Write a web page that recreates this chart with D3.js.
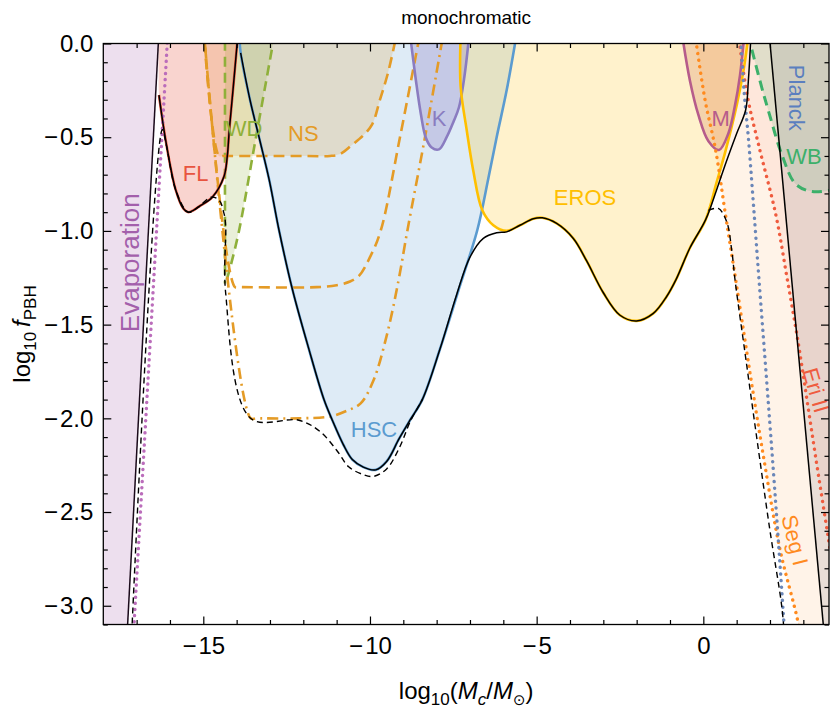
<!DOCTYPE html>
<html><head><meta charset="utf-8">
<script src="https://cdn.jsdelivr.net/npm/d3@7"></script>
<style>body{margin:0;background:#fff} text{font-family:"Liberation Sans",Arial,Helvetica,sans-serif}</style>
</head><body><svg id="c" width="834" height="709"></svg>
<script>
// ---- data (x = log10(Mc/Msun), y = log10 f_PBH) ----
const xMajor = [-15,-10,-5,0];
const xMinor = d3.range(-17,4,1).filter(v=>v%5!==0);
const yMajor = [0,-0.5,-1,-1.5,-2,-2.5,-3];
const yMinor = d3.range(0,-3.11,-0.1).map(v=>+v.toFixed(1));

const evapLine   = [[-16.32,0.1],[-17.30,-3.2]];
const evapDotted = [[-16.05,0.1],[-17.11,-3.2]];
const flCurve  = [[-16.35,0.1],[-16.34,-0.15],[-16.33,-0.275],[-16.13,-0.515],[-15.83,-0.78],[-15.6,-0.88],[-15.45,-0.9],[-15.3,-0.89],[-15.13,-0.87],[-14.73,-0.82],[-14.38,-0.71],[-14.28,-0.6],[-14.22,-0.46],[-14.1,-0.23],[-13.96,0.05]];
const wdLeft   = [[-14.35,0.1],[-14.35,-1.28]];
const wdRight  = [[-12.86,0.05],[-13.43,-0.51],[-13.93,-1.0],[-14.2,-1.2],[-14.33,-1.28]];
const nsA = [[-15.0,0.1],[-14.53,-0.6],[-14.4,-0.6],[-12.0,-0.6],[-11.2,-0.6],[-10.9,-0.59],[-10.53,-0.54],[-10.2,-0.49],[-9.93,-0.43],[-9.7,-0.3],[-9.45,-0.15],[-9.2,0.05]];
const nsB = [[-15.0,0.1],[-14.05,-1.3],[-13.9,-1.3],[-11.6,-1.3],[-11.0,-1.29],[-10.6,-1.27],[-10.33,-1.24],[-10.0,-1.14],[-9.68,-1.0],[-9.1,-0.5],[-8.5,0.05]];
const nsC = [[-15.0,0.1],[-13.58,-2.0],[-13.4,-2.0],[-12.13,-2.0],[-11.2,-1.99],[-10.7,-1.96],[-10.28,-1.92],[-9.9,-1.8],[-9.5,-1.56],[-9.15,-1.27],[-8.88,-1.0],[-8.35,-0.5],[-7.8,0.05]];
const hscCurve = [[-13.92,0.05],[-13.88,-0.05],[-13.6,-0.3],[-13.3,-0.52],[-13.02,-0.73],[-12.73,-0.995],[-12.33,-1.31],[-11.85,-1.62],[-11.38,-1.9],[-11.13,-2.01],[-10.8,-2.14],[-10.53,-2.22],[-10.2,-2.26],[-9.83,-2.275],[-9.5,-2.23],[-9.13,-2.11],[-8.8,-2.01],[-8.43,-1.9],[-7.9,-1.63],[-7.35,-1.32],[-6.78,-0.995],[-6.45,-0.72],[-6.2,-0.5],[-5.9,-0.25],[-5.6,0.05]];
const kCurve = [[-8.8,0.05],[-8.62,-0.2],[-8.47,-0.38],[-8.33,-0.5],[-8.15,-0.555],[-7.93,-0.565],[-7.7,-0.5],[-7.5,-0.42],[-7.33,-0.34],[-7.17,-0.18],[-7.02,0.05]];
const erosCurve = [[-7.28,0.05],[-7.28,-0.23],[-7.1,-0.46],[-6.9,-0.68],[-6.63,-0.89],[-6.3,-0.97],[-5.9,-1.0],[-5.5,-0.97],[-5.1,-0.935],[-4.83,-0.93],[-4.4,-0.96],[-3.9,-1.04],[-3.5,-1.16],[-3.0,-1.33],[-2.5,-1.45],[-2.0,-1.48],[-1.5,-1.44],[-1.1,-1.35],[-0.82,-1.26],[-0.4,-1.09],[0.07,-0.94],[0.4,-0.74],[0.67,-0.57],[1.0,-0.33],[1.2,-0.15],[1.36,0.05]];
const mCurve = [[-0.64,0.05],[-0.4,-0.2],[-0.15,-0.38],[0.15,-0.52],[0.47,-0.568],[0.75,-0.48],[0.95,-0.33],[1.1,-0.17],[1.23,0.05]];
const envMid = [[-13.88,-0.05],[-13.6,-0.3],[-13.3,-0.52],[-13.02,-0.73],[-12.73,-0.995],[-12.33,-1.31],[-11.85,-1.62],[-11.38,-1.9],[-11.13,-2.01],[-10.8,-2.14],[-10.53,-2.22],[-10.2,-2.26],[-9.83,-2.275],[-9.5,-2.23],[-9.13,-2.11],[-8.8,-2.01],[-8.43,-1.9],[-7.9,-1.63],[-7.4,-1.34],[-7.0,-1.14],[-6.6,-1.04],[-6.2,-1.01],[-5.9,-1.005],[-5.5,-0.97],[-5.1,-0.935],[-4.83,-0.93],[-4.4,-0.96],[-3.9,-1.04],[-3.5,-1.16],[-3.0,-1.33],[-2.5,-1.45],[-2.0,-1.48],[-1.5,-1.44],[-1.1,-1.35],[-0.82,-1.26],[-0.4,-1.09],[0.07,-0.94],[0.4,-0.78],[0.67,-0.64],[1.0,-0.48],[1.27,-0.355],[1.35,-0.2],[1.43,0.05]];
const dashedLeft = [[-17.16,-3.2],[-16.23,-0.46],[-16.1,-0.55],[-15.83,-0.78],[-15.45,-0.9],[-15.13,-0.87],[-14.77,-0.82],[-14.53,-0.835],[-14.38,-0.906],[-14.33,-0.97],[-14.33,-1.33],[-13.58,-2.0],[-12.13,-2.01],[-11.5,-2.07],[-11.0,-2.17],[-10.63,-2.26],[-10.2,-2.3],[-9.9,-2.31],[-9.5,-2.27],[-9.1,-2.15],[-8.8,-2.02],[-8.43,-1.9]];
const dashedRight = [[0.15,-0.89],[0.45,-0.88],[0.7,-0.95],[0.85,-1.1],[0.95,-1.26],[1.25,-1.65],[1.6,-2.1],[2.0,-2.6],[2.35,-3.0],[2.45,-3.2]];
const segICurve  = [[-0.25,0.05],[0.05,-0.3],[0.37,-0.57],[0.67,-0.92],[0.97,-1.26],[1.35,-1.7],[1.8,-2.2],[2.3,-2.7],[2.82,-3.07],[2.95,-3.2]];
const eriCurve   = [[1.05,0.05],[1.32,-0.28],[1.67,-0.55],[2.17,-0.91],[2.52,-1.26],[2.85,-1.6],[3.15,-1.95],[3.45,-2.3],[3.85,-2.75]];
const blueDotted = [[1.11,0.05],[1.22,-0.25],[1.35,-0.5],[1.5,-0.85],[1.67,-1.26],[1.9,-1.8],[2.15,-2.4],[2.42,-3.1],[2.45,-3.2]];
const wbCurve    = [[1.34,0.05],[1.7,-0.2],[1.97,-0.37],[2.37,-0.6],[2.77,-0.75],[3.27,-0.79],[3.9,-0.78]];
const planckLine = [[1.95,0.1],[3.65,-3.2]];

const regionLabels = [
  {t:"FL",x:-15.23,y:-0.69,c:"#e8543f",r:0,s:22},
  {t:"WD",x:-13.78,y:-0.45,c:"#8fb03a",r:0,s:22},
  {t:"NS",x:-12.0,y:-0.48,c:"#e49b26",r:0,s:22},
  {t:"K",x:-7.93,y:-0.40,c:"#8a7cc0",r:0,s:22},
  {t:"HSC",x:-9.88,y:-2.06,c:"#5b9bd0",r:0,s:22},
  {t:"EROS",x:-3.55,y:-0.82,c:"#ffbf00",r:0,s:22},
  {t:"M",x:0.52,y:-0.40,c:"#b65c8b",r:0,s:22},
  {t:"WB",x:3.02,y:-0.60,c:"#3cb06a",r:0,s:22},
  {t:"Planck",x:2.79,y:-0.29,c:"#5b7fbf",r:90,s:22},
  {t:"Eri II",x:3.38,y:-1.85,c:"#ef5b3e",r:74,s:22},
  {t:"Seg I",x:2.75,y:-2.65,c:"#ff8a1e",r:76,s:22},
  {t:"Evaporation",x:-17.2,y:-1.17,c:"#a35fab",r:-90,s:26}
];

// ---- layout ----
const L=103.3,R=829,T=43.5,B=624.5;
const svg=d3.select("#c");
const x=d3.scaleLinear().domain([-18,3.77]).range([L,R]);
const y=d3.scaleLinear().domain([-3.1,0]).range([B,T]);
const line=d3.line().x(d=>x(d[0])).y(d=>y(d[1])).curve(d3.curveCatmullRom.alpha(0.5));
const lin=d3.line().x(d=>x(d[0])).y(d=>y(d[1]));

svg.append("defs").append("clipPath").attr("id","clip").append("rect")
  .attr("x",L).attr("y",T).attr("width",R-L).attr("height",B-T);
const g=svg.append("g").attr("clip-path","url(#clip)");

const first=a=>a[0], last=a=>a[a.length-1];
function topFill(p,gen){gen=gen||line;return gen(p)+`L${x(last(p)[0])},${T-30}L${x(first(p)[0])},${T-30}Z`;}
function rightFill(p,gen){gen=gen||line;return gen(p)+`L${R+30},${y(last(p)[1])}L${R+30},${T-30}L${x(first(p)[0])},${T-30}Z`;}
function leftFill(p,gen){gen=gen||line;return gen(p)+`L${L-30},${y(last(p)[1])}L${L-30},${T-30}Z`;}

function fill(d,c,o){g.append("path").attr("d",d).attr("fill",c).attr("fill-opacity",o).attr("stroke","none");}
// fills
fill(leftFill(evapLine,lin),"#a35fab",0.2);
fill(topFill(hscCurve),"#5b9bd0",0.2);
fill(topFill(erosCurve),"#ffc000",0.2);
fill(topFill(nsA),"#e49b26",0.2);
fill(topFill(kCurve),"#8a7cc0",0.3);
fill(topFill(mCurve),"#c8603a",0.22);
fill(lin(wdLeft)+line(wdRight.slice().reverse()).replace(/^M/,"L")+"Z","#8fb03a",0.2);
fill(topFill(flCurve),"#e8543f",0.25);
fill(rightFill(segICurve),"#ff8a1e",0.1);
fill(rightFill(eriCurve),"#ef5b3e",0.07);
fill(topFill(wbCurve),"#3cb06a",0.15);
fill(rightFill(planckLine,lin),"#6a6a7a",0.15);

function stroke(d,c,w,dash){const p=g.append("path").attr("d",d).attr("fill","none").attr("stroke",c).attr("stroke-width",w).attr("stroke-linejoin","round");
  if(dash){p.attr("stroke-dasharray",dash);} if(dash&&dash.startsWith("0.1")) p.attr("stroke-linecap","round"); return p;}

// lines
stroke(lin(wdLeft),"#8fb03a",2.6,"10,6");
stroke(line(wdRight),"#8fb03a",2.6,"10,6");
stroke(line(nsA),"#e49b26",2.6,"11,6");
stroke(line(nsB),"#e49b26",2.6,"11,6");
stroke(line(nsC),"#e49b26",2.6,"11,5,2,5");
stroke(line(kCurve),"#8a7cc0",2.6);
stroke(line(hscCurve),"#5b9bd0",2.6);
stroke(line(erosCurve),"#ffc000",2.6);
stroke(line(mCurve),"#b65c8b",2.6);
stroke(line(flCurve.slice(2)),"#e8543f",2.6);
stroke(lin(evapDotted),"#bb6dbb",3.4,"0.1,6");
stroke(line(segICurve),"#ff8a1e",3.4,"0.1,6.5");
stroke(line(eriCurve),"#ef5b3e",3.4,"0.1,6.5");
stroke(line(blueDotted),"#6a86b8",3.4,"0.1,6.5");
stroke(line(wbCurve),"#3cb06a",3,"10,6");
stroke(line(dashedLeft),"#000",1.4,"6,4");
stroke(line(dashedRight),"#000",1.4,"6,4");
stroke(lin(evapLine),"#1a0a1a",1.5);
stroke(line(flCurve.slice(2)),"#000",1.5);
stroke(line(envMid),"#000",1.5);
stroke(lin(planckLine),"#000",1.5);

// region labels
regionLabels.forEach(l=>{
  svg.append("text").attr("transform",`translate(${x(l.x)},${y(l.y)}) rotate(${l.r})`)
    .attr("text-anchor","middle").attr("dy","0.35em").attr("font-size",l.s).attr("fill",l.c).text(l.t);
});

// axes
const fmtY=d=>d===0?"0.0":"\u2212\u200A"+Math.abs(d).toFixed(1);
const fmtX=d=>d===0?"0":"\u2212\u200A"+Math.abs(d);
function ax(gen,tr,vals,size,fmt,pad){
  const a=svg.append("g").attr("transform",tr).call(gen.tickValues(vals).tickSize(size).tickSizeOuter(0).tickPadding(pad||10).tickFormat(fmt||""));
  a.select(".domain").remove(); a.selectAll("line").attr("stroke","#000").attr("stroke-width",1.2);
  a.selectAll("text").attr("font-size",24).attr("fill","#000").attr("font-family","Liberation Sans,Arial,sans-serif");
  return a;
}
ax(d3.axisBottom(x),`translate(0,${B})`,xMajor,-8,fmtX,12);
ax(d3.axisBottom(x),`translate(0,${B})`,xMinor,-4.5);
ax(d3.axisTop(x),`translate(0,${T})`,xMajor,-8);
ax(d3.axisTop(x),`translate(0,${T})`,xMinor,-4.5);
ax(d3.axisLeft(y),`translate(${L},0)`,yMajor,-8,fmtY,10);
ax(d3.axisLeft(y),`translate(${L},0)`,yMinor.filter(v=>!yMajor.includes(v)),-4.5);
ax(d3.axisRight(y),`translate(${R},0)`,yMajor,-8);
ax(d3.axisRight(y),`translate(${R},0)`,yMinor.filter(v=>!yMajor.includes(v)),-4.5);
svg.append("rect").attr("x",L).attr("y",T).attr("width",R-L).attr("height",B-T).attr("fill","none").attr("stroke","#000").attr("stroke-width",1.3);

// title and axis labels
svg.append("text").attr("x",(L+R)/2).attr("y",24).attr("text-anchor","middle").attr("font-size",19).text("monochromatic");
const xl=svg.append("text").attr("x",(L+R)/2).attr("y",699).attr("text-anchor","middle").attr("font-size",24);
xl.append("tspan").text("log");
xl.append("tspan").attr("font-size",17).attr("dy",6).text("10");
xl.append("tspan").attr("dy",-6).text("(");
xl.append("tspan").attr("font-style","italic").text("M");
xl.append("tspan").attr("font-size",17).attr("font-style","italic").attr("dy",6).text("c");
xl.append("tspan").attr("dy",-6).text("/");
xl.append("tspan").attr("font-style","italic").text("M");
xl.append("tspan").attr("font-size",15).attr("font-family","DejaVu Sans").attr("dy",6).text("\u2299");
xl.append("tspan").attr("dy",-6).text(")");
const yl=svg.append("text").attr("transform",`translate(30,${(T+B)/2}) rotate(-90)`).attr("text-anchor","middle").attr("font-size",24);
yl.append("tspan").text("log");
yl.append("tspan").attr("font-size",17).attr("dy",6).text("10");
yl.append("tspan").attr("dy",-6).attr("font-style","italic").text("\u2009f");
yl.append("tspan").attr("font-size",17).attr("dy",6).text("PBH");
</script></body></html>
